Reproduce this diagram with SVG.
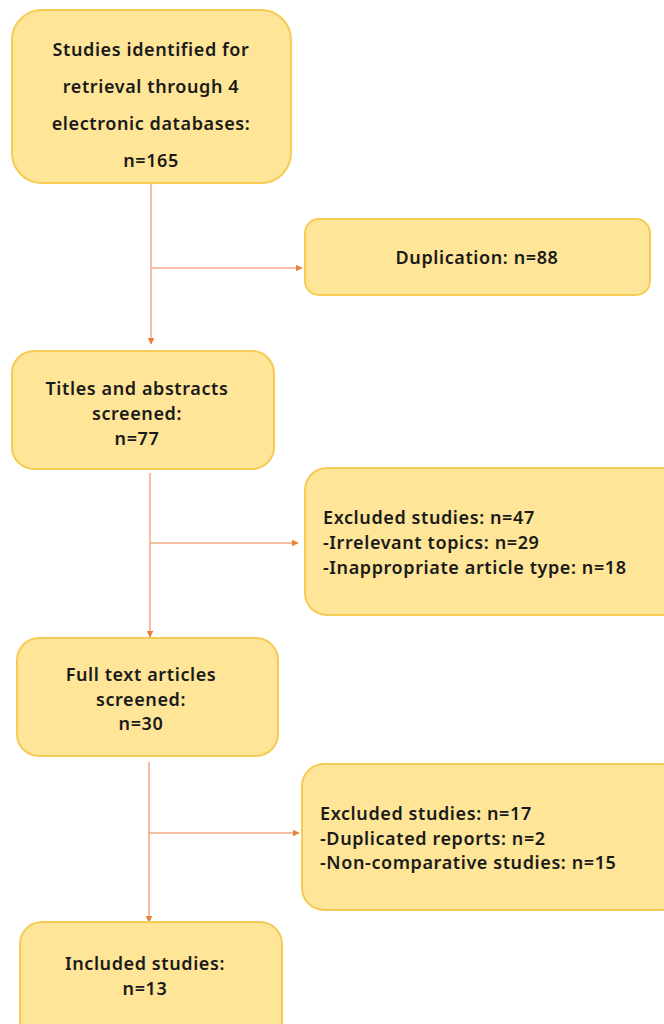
<svg xmlns="http://www.w3.org/2000/svg" width="664" height="1024" viewBox="0 0 664 1024">
<defs>
<style>
.box{fill:#FEE597;stroke:#F6CB55;stroke-width:2}
.t{font-family:"Noto Sans","Open Sans",sans-serif;font-weight:600;font-size:18px;letter-spacing:0.6px;fill:#1a1a1a}
.c{text-anchor:middle}
.ln{stroke:#F2A784;stroke-width:1.5;fill:none}
</style>
<marker id="ah" viewBox="0 0 10 10" refX="9" refY="5" markerWidth="7" markerHeight="7" markerUnits="userSpaceOnUse" orient="auto">
<path d="M0,0 L10,5 L0,10 z" fill="#E8823A"/>
</marker>
</defs>
<rect width="664" height="1024" fill="#ffffff"/>
<g id="connectors">
<path class="ln" d="M151,183 V344" marker-end="url(#ah)"/>
<path class="ln" d="M151,268 H302" marker-end="url(#ah)"/>
<path class="ln" d="M150,473 V637" marker-end="url(#ah)"/>
<path class="ln" d="M150,543 H298" marker-end="url(#ah)"/>
<path class="ln" d="M149,762 V922" marker-end="url(#ah)"/>
<path class="ln" d="M149,833 H299" marker-end="url(#ah)"/>
</g>
<g id="n1">
<rect class="box" x="12" y="10" width="279" height="173" rx="30"/>
<text class="t c" x="151" y="56">Studies identified for</text>
<text class="t c" x="151" y="93">retrieval through 4</text>
<text class="t c" x="151" y="130">electronic databases:</text>
<text class="t c" x="151" y="167">n=165</text>
</g>
<g id="n2">
<rect class="box" x="305" y="219" width="345" height="76" rx="14"/>
<text class="t c" x="477" y="264">Duplication: n=88</text>
</g>
<g id="n3">
<rect class="box" x="12" y="351" width="262" height="118" rx="22"/>
<text class="t c" x="137" y="395">Titles and abstracts</text>
<text class="t c" x="137" y="420">screened:</text>
<text class="t c" x="137" y="445">n=77</text>
</g>
<g id="n4">
<rect class="box" x="305" y="468" width="380" height="147" rx="22"/>
<text class="t" x="323" y="524">Excluded studies: n=47</text>
<text class="t" x="323" y="549">-Irrelevant topics: n=29</text>
<text class="t" x="323" y="574">-Inappropriate article type: n=18</text>
</g>
<g id="n5">
<rect class="box" x="17" y="638" width="261" height="118" rx="22"/>
<text class="t c" x="141" y="681">Full text articles</text>
<text class="t c" x="141" y="706">screened:</text>
<text class="t c" x="141" y="730">n=30</text>
</g>
<g id="n6">
<rect class="box" x="302" y="764" width="380" height="146" rx="22"/>
<text class="t" x="320" y="820">Excluded studies: n=17</text>
<text class="t" x="320" y="845">-Duplicated reports: n=2</text>
<text class="t" x="320" y="869">-Non-comparative studies: n=15</text>
</g>
<g id="n7">
<rect class="box" x="20" y="922" width="262" height="130" rx="22"/>
<text class="t c" x="145" y="970">Included studies:</text>
<text class="t c" x="145" y="995">n=13</text>
</g>
</svg>
